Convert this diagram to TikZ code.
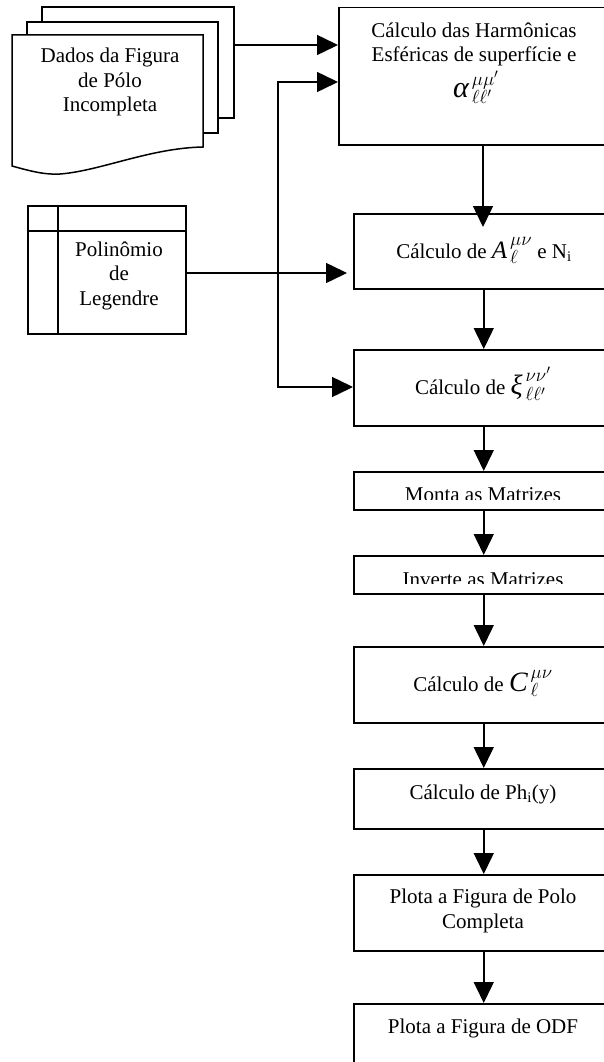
\documentclass[tikz,border=0pt]{standalone}
\usepackage{fix-cm}
\usepackage{fontspec}
\setmainfont{Liberation Serif}
\usetikzlibrary{arrows.meta}
\tikzset{
  ln/.style={line width=1.5pt},
  box/.style={draw, ln, inner sep=0pt, anchor=north west, minimum width=260pt},
  txt/.style={inner sep=0pt, align=center, font=\fontsize{21}{24.5}\selectfont},
  arr/.style={ln, -{Triangle[length=21pt,width=20pt]}},
  arrboth/.style={ln, {Triangle[length=21pt,width=20pt]}-{Triangle[length=21pt,width=20pt]}}
}
% #1 size of the main symbol, #2 symbol, #3 scripts
\newcommand{\msym}[3]{{\fontsize{27}{27}\selectfont$\hbox{\fontsize{#1}{#1}\selectfont\itshape #2\kern3pt}#3$}}
\begin{document}
\begin{tikzpicture}[x=1pt,y=-1pt]
\useasboundingbox (0,0) rectangle (604,1062);
\clip (0,0) rectangle (604,1062);
\fill[white] (0,0) rectangle (604,1062);

% multi-document shape
\draw[ln] (42,22) -- (42,7) -- (234,7) -- (234,118) -- (218,118);
\draw[ln] (27,35) -- (27,22) -- (218,22) -- (218,133) -- (203,133);
\draw[ln] (12,35) -- (203,35) -- (203,147)
  .. controls (150,148) and (100,171) .. (60,174)
  .. controls (45,175) and (30,171) .. (12,166) -- cycle;
\node[txt, anchor=base] (tdoc) at (110,112) {Dados da Figura\\de Pólo\\Incompleta};

% Legendre table
\node[box, minimum width=158pt, minimum height=128pt] (leg) at (27,205) {};
\draw[ln] (58,205) -- (58,333);
\draw[ln] (27,231) -- (185,231);
\node[txt, anchor=base] (tleg) at (119,305) {Polinômio\\de\\Legendre};

% main column boxes
\node[box, minimum width=272pt, minimum height=137pt] (b1) at (338,7) {};
\node[box, minimum height=75pt] (bA) at (353,213) {};
\node[box, minimum height=76pt] (bX) at (353,349) {};
\node[box, minimum height=38pt] (bM) at (353,471) {};
\node[box, minimum height=38pt] (bI) at (353,555) {};
\node[box, minimum height=76pt] (bC) at (353,646) {};
\node[box, minimum height=60pt] (bP) at (353,768) {};
\node[box, minimum height=76pt] (bF) at (353,874) {};
\node[box, minimum height=100pt] (bO) at (353,1003) {};

% texts
\node[txt, anchor=base] (t1) at (474,62) {Cálculo das Harmônicas\\Esféricas de superfície e};
\node[txt, anchor=base] (t1m) at (476,98) {\msym{30}{α}{^{\mu\mu'}_{\ell\ell'}}};
\node[txt, anchor=base] (tA) at (484,258) {Cálculo de \msym{25}{A}{^{\mu\nu}_{\ell}} e N\textsubscript{i}};
\node[txt, anchor=base] (tX) at (483,394) {Cálculo de \msym{28}{ξ}{^{\nu\nu'}_{\ell\ell'}}};
\begin{scope}
  \clip (353,471) rectangle (610,499.5);
  \node[txt, anchor=base] (tM) at (483,501) {Monta as Matrizes};
\end{scope}
\begin{scope}
  \clip (353,555) rectangle (610,583.5);
  \node[txt, anchor=base] (tI) at (483,586) {Inverte as Matrizes};
\end{scope}
\node[txt, anchor=base] (tC) at (483,691) {Cálculo de \msym{28}{C}{^{\mu\nu}_{\ell}}};
\node[txt, anchor=base] (tP) at (483,799) {Cálculo de Ph\textsubscript{i}(y)};
\node[txt, anchor=base] (tF) at (483,928) {Plota a Figura de Polo\\Completa};
\node[txt, anchor=base] (tO) at (483,1033) {Plota a Figura de ODF};

% connectors
\coordinate (col) at (483,0);
\coordinate (docout) at (234,45);
\coordinate (legout) at (185,273);
\coordinate (fb) at (278,82);
\coordinate (fbx) at (278,387);

\draw[arr] (docout) -- (docout -| b1.west);
\draw[arrboth] (fb -| b1.west) -- (fb) -- (fbx) -- (fbx -| bX.west);
\draw[arr, shorten >=6pt] (legout) -- (legout -| bA.west);
\draw[arr, shorten >=-14pt] (b1.south -| col) -- (bA.north -| col);
\draw[arr] (bA) -- (bX);
\draw[arr] (bX) -- (bM);
\draw[arr] (bM) -- (bI);
\draw[arr] (bI) -- (bC);
\draw[arr] (bC) -- (bP);
\draw[arr] (bP) -- (bF);
\draw[arr] (bF) -- (bO);
\end{tikzpicture}
\end{document}
